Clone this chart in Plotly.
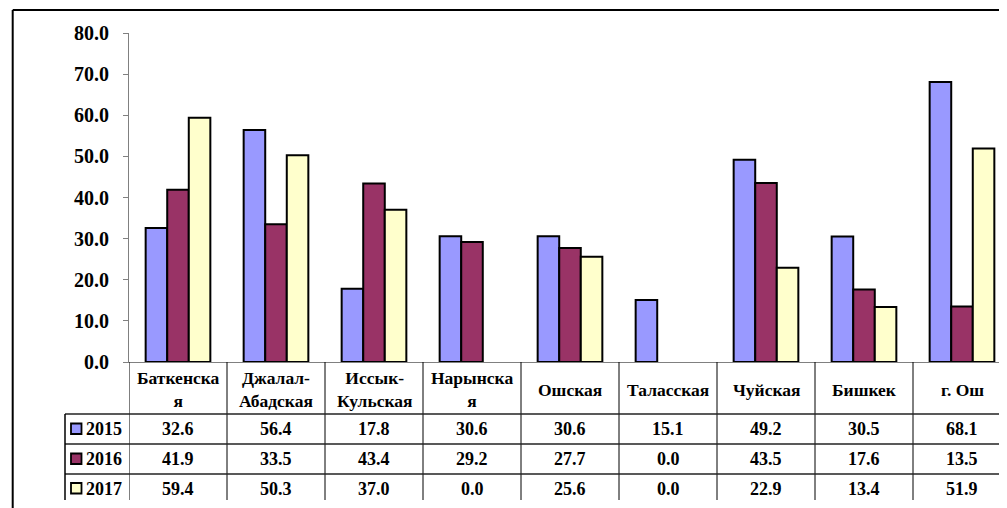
import plotly.graph_objects as go

categories = ["Баткенская", "Джалал-Абадская", "Иссык-Кульская", "Нарынская",
              "Ошская", "Таласская", "Чуйская", "Бишкек", "г. Ош"]
header_labels = ["Баткенска<br>я", "Джалал-<br>Абадская", "Иссык-<br>Кульская",
                 "Нарынска<br>я", "Ошская", "Таласская", "Чуйская", "Бишкек", "г. Ош"]
years = ["2015", "2016", "2017"]
v2015 = [32.6, 56.4, 17.8, 30.6, 30.6, 15.1, 49.2, 30.5, 68.1]
v2016 = [41.9, 33.5, 43.4, 29.2, 27.7, 0.0, 43.5, 17.6, 13.5]
v2017 = [59.4, 50.3, 37.0, 0.0, 25.6, 0.0, 22.9, 13.4, 51.9]
series = [v2015, v2016, v2017]
colors = ["#9999FF", "#993366", "#FFFFCC"]
y_ticks = [0, 10, 20, 30, 40, 50, 60, 70, 80]

# page body has a default 8px margin: figure origin sits at (8, 8) in the window
OFF = 8
W, H = 1007, 508
L, R, T, B = 129 - OFF, 4, 33 - OFF, H - (362 - OFF)
PW = W - L - R
PH = H - T - B

def px(x):
    return (x - OFF - L) / PW

def py(y):
    return (H - B - (y - OFF)) / PH

FONT = "Liberation Serif, Times New Roman, serif"

fig = go.Figure()
for name, vals, col in zip(years, series, colors):
    fig.add_trace(go.Bar(x=categories, y=[v if v != 0 else None for v in vals], name=name,
                         marker=dict(color=col, line=dict(color="black", width=2)),
                         showlegend=False, hoverinfo="x+y"))

shapes = []
annotations = []

# outer border (left and top)
shapes.append(dict(type="line", xref="paper", yref="paper",
                   x0=px(12.7), x1=px(12.7), y0=py(10), y1=py(530),
                   line=dict(color="black", width=2)))
shapes.append(dict(type="line", xref="paper", yref="paper",
                   x0=px(12.7), x1=px(1030), y0=py(10), y1=py(10),
                   line=dict(color="black", width=2)))

# table vertical lines at category boundaries
for i in range(len(categories) + 1):
    shapes.append(dict(type="line", xref="x", yref="paper",
                       x0=i - 0.5, x1=i - 0.5, y0=py(362), y1=py(500),
                       line=dict(color="black", width=1)))

# table horizontal lines
row_lines = [414, 444, 474]
for yl in row_lines:
    shapes.append(dict(type="line", xref="paper", yref="paper",
                       x0=px(65), x1=px(1030), y0=py(yl), y1=py(yl),
                       line=dict(color="#222222", width=1.4)))
# left column box
shapes.append(dict(type="line", xref="paper", yref="paper",
                   x0=px(65), x1=px(65), y0=py(414), y1=py(500),
                   line=dict(color="black", width=1.5)))

row_centers = [429, 459, 488.5]
for yr, col, yc, vals in zip(years, colors, row_centers, series):
    shapes.append(dict(type="rect", xref="paper", yref="paper",
                       x0=px(71), x1=px(81.5), y0=py(yc - 5.5), y1=py(yc + 5),
                       fillcolor=col, line=dict(color="black", width=1.8)))
    annotations.append(dict(text=yr, xref="paper", yref="paper",
                            x=px(84), y=py(yc), xanchor="left", yanchor="middle",
                            showarrow=False,
                            font=dict(family=FONT, size=18, color="black", weight="bold")))
    for c, v in zip(categories, vals):
        annotations.append(dict(text=f"{v:.1f}", xref="x", yref="paper",
                                x=c, y=py(yc), xanchor="center", yanchor="middle",
                                showarrow=False,
                                font=dict(family=FONT, size=18, color="black", weight="bold")))

for c, lab in zip(categories, header_labels):
    annotations.append(dict(text=lab, xref="x", yref="paper",
                            x=c, y=py(389.5), xanchor="center", yanchor="middle",
                            showarrow=False,
                            font=dict(family=FONT, size=17.5, color="black", weight="bold")))

fig.update_layout(
    width=W, height=H,
    margin=dict(l=L, r=R, t=T, b=B, pad=0),
    paper_bgcolor="white", plot_bgcolor="white",
    barmode="group", bargap=0.34, bargroupgap=0,
    shapes=shapes, annotations=annotations,
    xaxis=dict(type="category", range=[-0.5, len(categories) - 0.5],
               showticklabels=False, ticks="", showgrid=False,
               showline=True, linecolor="#808080", linewidth=1, zeroline=False),
    yaxis=dict(range=[0, 80], tickvals=y_ticks, tickformat=".1f",
               showgrid=False, zeroline=False,
               showline=True, linecolor="#808080", linewidth=1,
               ticks="outside", ticklen=5, tickcolor="#808080",
               ticklabelstandoff=10,
               tickfont=dict(family=FONT, size=20, color="black", weight="bold")),
)

fig.write_html("out.html")
